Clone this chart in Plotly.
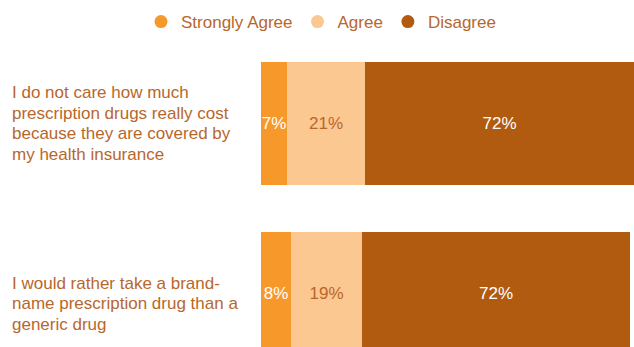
import plotly.graph_objects as go

categories = ["q1", "q2"]
label_lines = [
    ["I do not care how much", "prescription drugs really cost",
     "because they are covered by", "my health insurance"],
    ["I would rather take a brand-", "name prescription drug than a", "generic drug"],
]
series_names = ["Strongly Agree", "Agree", "Disagree"]
strongly_agree = [7, 8]
agree = [21, 19]
disagree = [72, 72]

colors = ["#F6992A", "#FCC891", "#B05B10"]
text_colors = ["#FFFFFF", "#B8672B", "#FFFFFF"]
label_color = "#B8672B"
FONT = "Liberation Sans, Arial, sans-serif"

W, H = 634, 347
bar_left_px = 261
x_min = -bar_left_px / (W - bar_left_px) * 100

fig = go.Figure()
for name, vals, c, tc in zip(series_names, [strongly_agree, agree, disagree], colors, text_colors):
    fig.add_trace(go.Bar(
        y=categories, x=vals, name=name, orientation="h",
        marker=dict(color=c, line=dict(width=0)),
        width=0.7235,
        text=[f"{v}%" for v in vals],
        textposition="inside", insidetextanchor="middle",
        textangle=0, constraintext="none",
        textfont=dict(color=tc, size=17, family=FONT),
        hoverinfo="skip", showlegend=False,
    ))
# legend entries with circle markers
for name, c in zip(series_names, colors):
    fig.add_trace(go.Scatter(
        x=[None], y=[None], mode="markers", name=name,
        marker=dict(color=c, size=13, symbol="circle"),
        showlegend=True, hoverinfo="skip",
    ))

annotations = []
for cat, lines in zip(categories, label_lines):
    n = len(lines)
    for i, line in enumerate(lines):
        from_bottom = n - 1 - i
        annotations.append(dict(
            xref="paper", x=10 / W, xanchor="left",
            yref="y", y=cat, yanchor="middle",
            yshift=-(30.5 - 20.5 * from_bottom),
            text=line, showarrow=False,
            font=dict(size=17, color=label_color, family=FONT),
        ))

fig.update_layout(
    width=W, height=H,
    margin=dict(l=0, r=0, t=0, b=0, autoexpand=False),
    barmode="stack",
    bargap=0,
    plot_bgcolor="white", paper_bgcolor="white",
    showlegend=True,
    legend=dict(orientation="h", x=141 / W, xanchor="left", y=1 - 22 / H, yanchor="middle",
                font=dict(size=17, color=label_color, family=FONT),
                traceorder="normal", bgcolor="rgba(0,0,0,0)"),
    xaxis=dict(range=[x_min, 100], visible=False),
    yaxis=dict(type="category", range=[1.3147, -0.7265], visible=False),
    annotations=annotations,
)
fig.write_html("out.html")
